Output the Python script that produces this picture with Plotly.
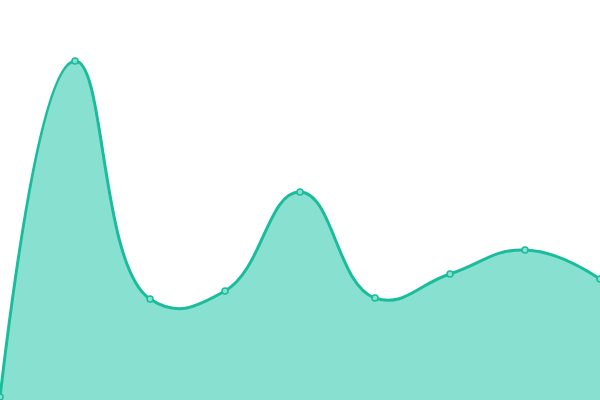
import plotly.graph_objects as go

# data (x index, height above baseline)
steps = [0, 1, 2, 3, 4, 5, 6, 7, 8]
values = [3, 339, 101, 109, 208, 102, 126, 150, 121]

LINE = "#1abc9c"
FILL = "#88e0d0"

fig = go.Figure()
fig.add_trace(go.Scatter(
    x=steps, y=values,
    mode="lines+markers",
    line=dict(color=LINE, width=3, shape="spline", smoothing=1.3),
    fill="tozeroy", fillcolor=FILL,
    marker=dict(size=6, color=FILL, line=dict(color=LINE, width=1.5)),
    hoverinfo="skip",
))

fig.update_layout(
    width=600, height=400,
    margin=dict(l=0, r=0, t=0, b=0),
    paper_bgcolor="white", plot_bgcolor="white",
    showlegend=False,
    xaxis=dict(visible=False, range=[0, 8]),
    yaxis=dict(visible=False, range=[0, 400]),
)

# drop the browser's default body margin so the chart sits flush
fig.write_html("out.html", config={"displayModeBar": False},
               post_script="document.body.style.margin='0';document.body.style.overflow='hidden';")
